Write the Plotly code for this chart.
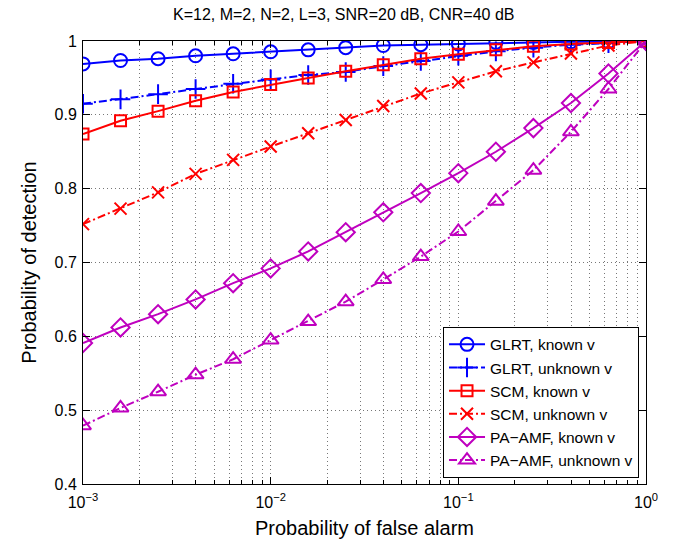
import numpy as np
import plotly.graph_objects as go

# x: probability of false alarm, 10^(-3 + 0.2k), k = 0..15
pfa_exp = [-3.0, -2.8, -2.6, -2.4, -2.2, -2.0, -1.8, -1.6, -1.4, -1.2, -1.0, -0.8, -0.6, -0.4, -0.2, 0.0]
pfa = [10 ** e for e in pfa_exp]

glrt_known = [0.969, 0.9736, 0.976, 0.980, 0.9827, 0.9854, 0.988, 0.991, 0.9939, 0.995, 0.996, 0.998, 0.998, 0.999, 0.999, 1.0]
glrt_unknown = [0.915, 0.921, 0.928, 0.935, 0.942, 0.948, 0.954, 0.958, 0.966, 0.973, 0.980, 0.986, 0.991, 0.995, 0.997, 1.0]
scm_known = [0.874, 0.892, 0.905, 0.919, 0.931, 0.941, 0.950, 0.959, 0.968, 0.976, 0.982, 0.988, 0.993, 0.996, 0.998, 1.0]
scm_unknown = [0.752, 0.773, 0.795, 0.820, 0.839, 0.857, 0.875, 0.893, 0.912, 0.929, 0.944, 0.959, 0.971, 0.983, 0.994, 1.0]
pa_known = [0.591, 0.612, 0.630, 0.650, 0.672, 0.692, 0.715, 0.741, 0.768, 0.794, 0.821, 0.850, 0.882, 0.916, 0.956, 1.0]
pa_unknown = [0.479, 0.503, 0.525, 0.548, 0.569, 0.595, 0.620, 0.647, 0.677, 0.708, 0.742, 0.783, 0.825, 0.877, 0.935, 1.0]

names = ["GLRT, known v", "GLRT, unknown v", "SCM, known v", "SCM, unknown v",
         "PA\u2212AMF, known v", "PA\u2212AMF, unknown v"]
series = [glrt_known, glrt_unknown, scm_known, scm_unknown, pa_known, pa_unknown]
colors = ["#0000FF", "#0000FF", "#FF0000", "#FF0000", "#BF00BF", "#BF00BF"]
dashes = ["solid", "8px,3px,2px,3px", "solid", "8px,3px,2px,3px", "solid", "8px,3px,2px,3px"]
symbols = ["circle-open", "cross-thin-open", "square-open", "x-thin-open", "diamond-open", "triangle-up-open"]
sizes = [13, 14, 11, 12, 14, 14]

x_major = [1e-3, 1e-2, 1e-1, 1e0]
x_major_text = ["10<sup>\u22123</sup>", "10<sup>\u22122</sup>", "10<sup>\u22121</sup>", "10<sup>0</sup>"]
x_minor = [m * 10 ** d for d in (-3, -2, -1) for m in range(2, 10)]
y_ticks = [0.4, 0.5, 0.6, 0.7, 0.8, 0.9, 1.0]
y_text = ["0.4", "0.5", "0.6", "0.7", "0.8", "0.9", "1"]

fig = go.Figure()
for n, s, c, d, sym, sz in zip(names, series, colors, dashes, symbols, sizes):
    fig.add_trace(go.Scatter(
        x=pfa, y=s, name=n, mode="lines+markers",
        line=dict(color=c, width=2, dash=d),
        marker=dict(symbol=sym, size=sz, color=c, line=dict(color=c, width=2)),
    ))

font = "Liberation Sans, Arial, sans-serif"
grid_c = "#777777"
grid_d = "1px,3px"
fig.update_layout(
    width=678, height=546,
    margin=dict(l=83, r=32, t=41, b=62),
    paper_bgcolor="white", plot_bgcolor="white",
    font=dict(family=font, size=16, color="black"),
    title=dict(text="K=12, M=2, N=2, L=3, SNR=20 dB, CNR=40 dB",
               x=0.507, xanchor="center", y=0.974, yanchor="middle",
               font=dict(size=16, family=font)),
    showlegend=True,
    legend=dict(x=0.9876, y=0.014, xanchor="right", yanchor="bottom",
                bgcolor="white", bordercolor="black", borderwidth=1,
                font=dict(size=15.5, family=font), tracegroupgap=0,
                itemwidth=36),
)
fig.update_xaxes(
    type="log", range=[-3, 0],
    tickmode="array", tickvals=x_major, ticktext=x_major_text,
    ticks="inside", ticklen=7, tickcolor="black",
    showline=True, linecolor="black", linewidth=1, mirror="ticks",
    showgrid=True, gridcolor=grid_c, griddash=grid_d, gridwidth=1,
    zeroline=False,
    tickfont=dict(size=16), ticklabelstandoff=4,
    title=dict(text="Probability of false alarm", font=dict(size=20), standoff=10),
    minor=dict(tickmode="array", tickvals=x_minor, ticks="inside", ticklen=4,
               tickcolor="black", showgrid=True, gridcolor=grid_c,
               griddash=grid_d, gridwidth=1),
)
fig.update_yaxes(
    range=[0.4, 1.0],
    tickmode="array", tickvals=y_ticks, ticktext=y_text,
    ticks="inside", ticklen=7, tickcolor="black",
    showline=True, linecolor="black", linewidth=1, mirror="ticks",
    showgrid=True, gridcolor=grid_c, griddash=grid_d, gridwidth=1,
    zeroline=False,
    tickfont=dict(size=16), ticklabelstandoff=2,
    title=dict(text="Probability of detection", font=dict(size=20), standoff=12),
)

fig.write_html("out.html")
